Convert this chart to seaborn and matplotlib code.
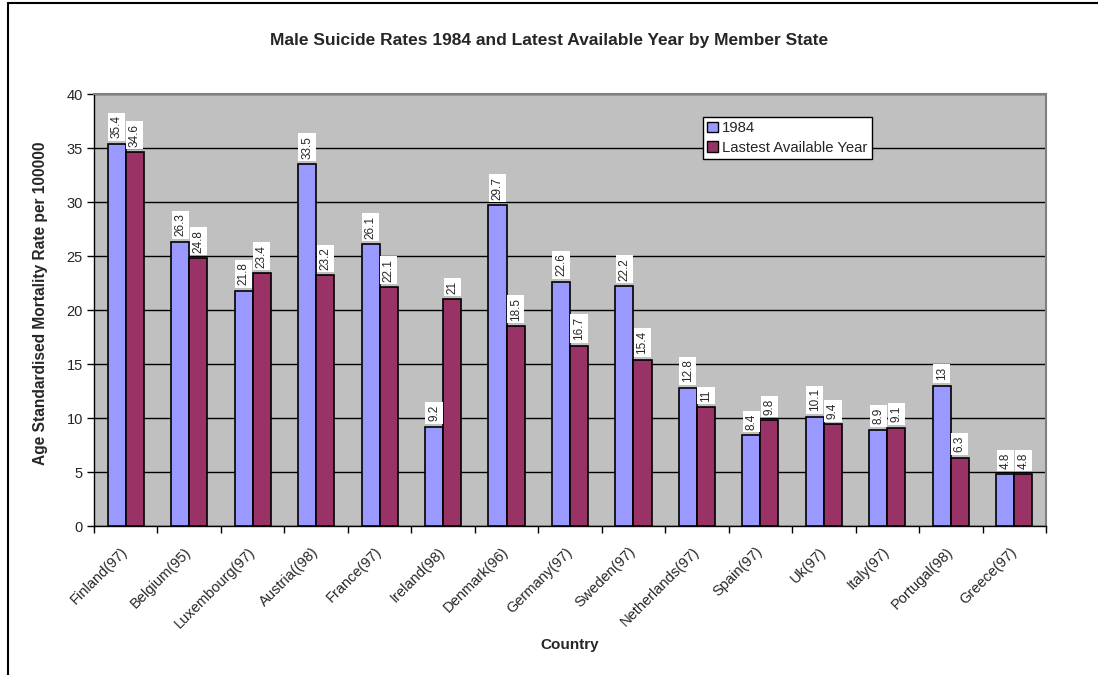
import matplotlib
matplotlib.use("Agg")
import matplotlib.pyplot as plt
import matplotlib.transforms as mtransforms
from matplotlib.patches import Patch
from matplotlib.lines import Line2D
import numpy as np
import pandas as pd
import seaborn as sns

countries = ["Finland(97)", "Belgium(95)", "Luxembourg(97)", "Austria((98)", "France(97)",
             "Ireland(98)", "Denmark(96)", "Germany(97)", "Sweden(97)", "Netherlands(97)",
             "Spain(97)", "Uk(97)", "Italy(97)", "Portugal(98)", "Greece(97)"]
rate_1984 = [35.4, 26.3, 21.8, 33.5, 26.1, 9.2, 29.7, 22.6, 22.2, 12.8, 8.4, 10.1, 8.9, 13, 4.8]
rate_latest = [34.6, 24.8, 23.4, 23.2, 22.1, 21, 18.5, 16.7, 15.4, 11, 9.8, 9.4, 9.1, 6.3, 4.8]
series_names = ["1984", "Lastest Available Year"]
series_colors = ["#9999FF", "#993366"]
y_ticks = [0, 5, 10, 15, 20, 25, 30, 35, 40]

df = pd.DataFrame({
    "Country": countries * 2,
    "Series": [series_names[0]] * len(countries) + [series_names[1]] * len(countries),
    "Rate": rate_1984 + rate_latest,
})

sns.set_style("white")
plt.rcParams["font.family"] = ["Liberation Sans", "DejaVu Sans"]

fig = plt.figure(figsize=(10.98, 6.75), dpi=100)
ax = fig.add_axes([94 / 1098, 1 - 526 / 675, 952 / 1098, 432 / 675])
ax.set_facecolor("#C0C0C0")

sns.barplot(data=df, x="Country", y="Rate", hue="Series", order=countries,
            hue_order=series_names, palette=dict(zip(series_names, series_colors)),
            width=0.57, gap=0, edgecolor="black", linewidth=1.2, saturation=1,
            errorbar=None, ax=ax, zorder=3)

ax.set_ylim(0, 40)
ax.set_xlim(-0.5, len(countries) - 0.5)
ax.set_yticks(y_ticks)
ax.yaxis.grid(True, color="black", linewidth=1.0, zorder=1)
ax.set_axisbelow(True)

# value labels on each bar
for cont in ax.containers:
    ax.bar_label(cont, labels=[f"{b.get_height():g}" for b in cont], rotation=90,
                 padding=4, fontsize=8.5,
                 bbox=dict(boxstyle="square,pad=0.22", facecolor="white", edgecolor="none"))

# tick marks between categories, labels at the centres
ax.set_xticks(np.arange(len(countries)))
ax.set_xticklabels(countries, rotation=45, ha="right", va="center", rotation_mode="anchor",
                   fontsize=10.5)
shift = mtransforms.ScaledTranslation(-5 / 100, 0, fig.dpi_scale_trans)
for lbl in ax.get_xticklabels():
    lbl.set_transform(lbl.get_transform() + shift)
ax.set_xticks(np.arange(len(countries) + 1) - 0.5, minor=True)
ax.tick_params(axis="x", which="major", length=0, pad=17)
ax.tick_params(axis="x", which="minor", length=5, width=1, color="black", direction="out", bottom=True)
ax.tick_params(axis="y", which="major", length=5, width=1, color="black", direction="out", left=True,
               labelsize=10.5, pad=3)

for side in ("top", "right"):
    ax.spines[side].set_color("#808080")
    ax.spines[side].set_linewidth(1.5)
for side in ("left", "bottom"):
    ax.spines[side].set_color("black")
    ax.spines[side].set_linewidth(1.0)

ax.set_xlabel("Country", fontsize=11, fontweight="bold")
ax.set_ylabel("Age Standardised Mortality Rate per 100000", fontsize=11.2, fontweight="bold")
ax.xaxis.set_label_coords(0.5, (526 - 638) / 432)
ax.xaxis.label.set_va("top")
ax.yaxis.set_label_coords((48 - 94) / 952, 0.516)

handles = [Patch(facecolor=c, edgecolor="black", linewidth=1.0, label=n)
           for c, n in zip(series_colors, series_names)]
leg = ax.legend(handles=handles, loc="upper left", bbox_to_anchor=((703 - 94) / 952, (526 - 117) / 432),
                fontsize=10.7, frameon=True, fancybox=False, framealpha=1, edgecolor="black",
                handlelength=0.7, handleheight=0.7, handletextpad=0.3, borderpad=0.3,
                labelspacing=0.35, borderaxespad=0)
leg.get_frame().set_linewidth(1.0)

fig.text(549 / 1098, 1 - 40 / 675, "Male Suicide Rates 1984 and Latest Available Year by Member State",
         ha="center", va="center", fontsize=12.5, fontweight="bold")

# chart border
fig.add_artist(Line2D([8 / 1098, 8 / 1098], [0, 1 - 3 / 675], color="black", linewidth=1.5,
                      transform=fig.transFigure))
fig.add_artist(Line2D([8 / 1098, 1], [1 - 3 / 675, 1 - 3 / 675], color="black", linewidth=1.5,
                      transform=fig.transFigure))

fig.savefig("out.png", dpi=100)
